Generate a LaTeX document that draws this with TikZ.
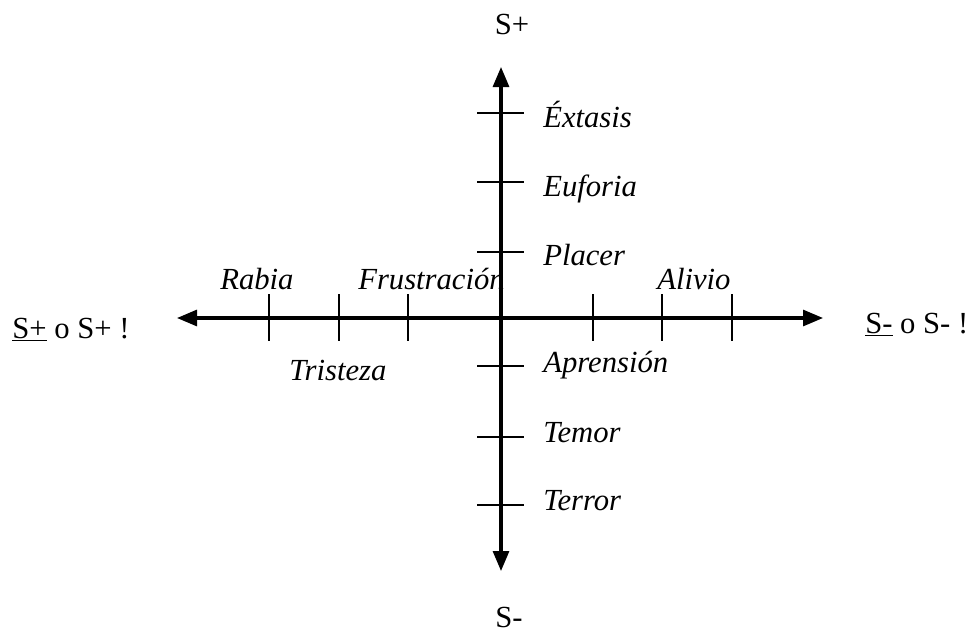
\documentclass[tikz,border=0pt]{standalone}
\usepackage{fontspec}
\setmainfont{Liberation Serif}
\usetikzlibrary{arrows.meta}
\begin{document}
\begin{tikzpicture}[x=0.75pt, y=-0.75pt,
  ax/.style={line width=2.3pt, {Triangle[length=15pt, width=12pt]}-{Triangle[length=15pt, width=12pt]}},
  tk/.style={line width=1.5pt},
  emo/.style={font=\fontsize{23}{27}\selectfont\itshape, inner sep=0pt},
  pole/.style={font=\fontsize{23}{27}\selectfont, inner sep=0pt}]

  \useasboundingbox (0,0) rectangle (969,635);

  % axis ends
  \coordinate (top) at (501,67);
  \coordinate (bot) at (501,571);
  \coordinate (lft) at (177,318);
  \coordinate (rgt) at (823,318);

  % axes
  \draw[ax] (lft) -- (rgt);
  \draw[ax] (bot) -- (top);

  % ticks
  \foreach \x in {269,339,408,593,662,732}
    \draw[tk] (\x,294) -- (\x,341);
  \foreach \y in {113,182,252,366,437,505}
    \draw[tk] (477,\y) -- (524,\y);

  % poles
  \node[pole, anchor=base] (splus) at (512,35) {S+};
  \node[pole, anchor=base] (sminus) at (509,627) {S-};
  \node[pole, anchor=base west] (west) at (12,338) {\underline{S+} o S+ !};
  \node[pole, anchor=base west] (east) at (865,333) {\underline{S-} o S- !};

  % emotions on the vertical axis
  \node[emo, anchor=base west] (extasis) at (543,127) {Éxtasis};
  \node[emo, anchor=base west] (euforia) at (543,196) {Euforia};
  \node[emo, anchor=base west] (placer) at (543,265) {Placer};
  \node[emo, anchor=base west] (aprension) at (543,372) {Aprensión};
  \node[emo, anchor=base west] (temor) at (543,442) {Temor};
  \node[emo, anchor=base west] (terror) at (543,510) {Terror};

  % emotions on the horizontal axis
  \node[emo, anchor=base west] (rabia) at (220,289) {Rabia};
  \node[emo, anchor=base west] (frustr) at (358,289) {Frustración};
  \node[emo, anchor=base west] (triste) at (289,380) {Tristeza};
  \node[emo, anchor=base west] (alivio) at (657,289) {Alivio};

\end{tikzpicture}
\end{document}
